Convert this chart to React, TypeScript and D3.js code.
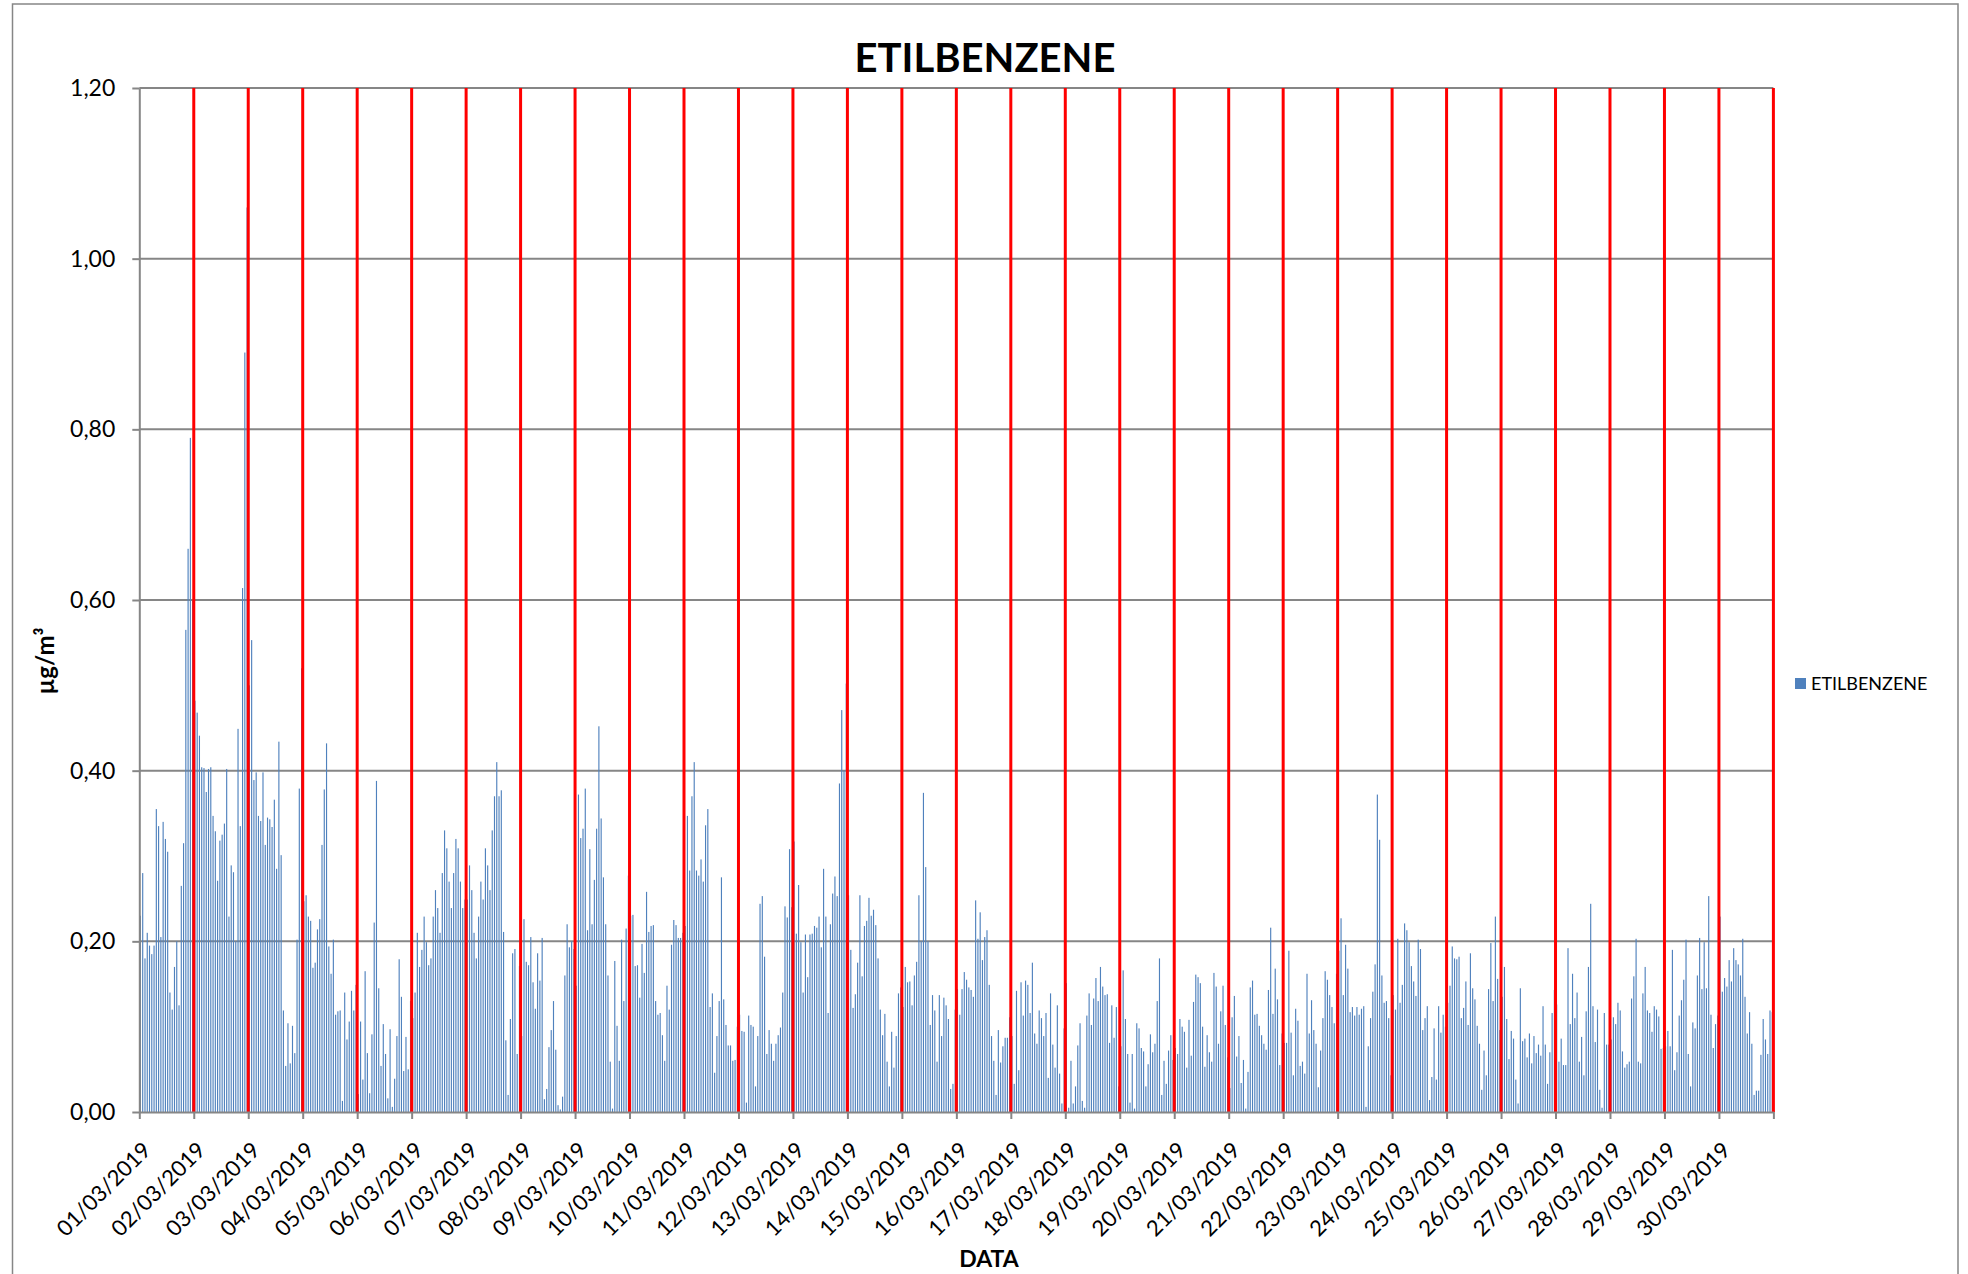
import React, { useEffect, useRef } from 'react';
import * as d3 from 'd3';

// ETILBENZENE - hourly values, march 2019

const dayLabels = [
  '01/03/2019', '02/03/2019', '03/03/2019', '04/03/2019', '05/03/2019', '06/03/2019',
  '07/03/2019', '08/03/2019', '09/03/2019', '10/03/2019', '11/03/2019', '12/03/2019',
  '13/03/2019', '14/03/2019', '15/03/2019', '16/03/2019', '17/03/2019', '18/03/2019',
  '19/03/2019', '20/03/2019', '21/03/2019', '22/03/2019', '23/03/2019', '24/03/2019',
  '25/03/2019', '26/03/2019', '27/03/2019', '28/03/2019', '29/03/2019', '30/03/2019',
];

const yTicks = [0, 0.2, 0.4, 0.6, 0.8, 1.0, 1.2];

const seriesName = 'ETILBENZENE';

// one row per day, 24 hourly values (µg/m³)
const hourly = [
  [0.23, 0.28, 0.18, 0.21, 0.195, 0.185, 0.195, 0.355, 0.335, 0.205, 0.34, 0.32, 0.305, 0.14, 0.12, 0.17, 0.2, 0.125, 0.265, 0.315, 0.565, 0.66, 0.79, 0.6],
  [0.482, 0.468, 0.441, 0.404, 0.403, 0.375, 0.402, 0.404, 0.347, 0.329, 0.271, 0.318, 0.325, 0.338, 0.402, 0.229, 0.289, 0.281, 0.2, 0.449, 0.335, 0.614, 0.89, 1.06],
  [0.5, 0.553, 0.389, 0.398, 0.347, 0.341, 0.398, 0.313, 0.345, 0.343, 0.334, 0.366, 0.285, 0.434, 0.301, 0.119, 0.054, 0.104, 0.057, 0.101, 0.069, 0.202, 0.379, 0.52],
  [0.247, 0.254, 0.229, 0.224, 0.169, 0.175, 0.214, 0.226, 0.313, 0.378, 0.432, 0.194, 0.162, 0.202, 0.114, 0.118, 0.119, 0.013, 0.14, 0.085, 0.106, 0.142, 0.119, 0.149],
  [0.021, 0.106, 0.038, 0.165, 0.069, 0.022, 0.091, 0.222, 0.388, 0.145, 0.054, 0.103, 0.068, 0.016, 0.097, 0.006, 0.039, 0.089, 0.179, 0.135, 0.048, 0.088, 0.05, 0.13],
  [0.11, 0.14, 0.21, 0.17, 0.19, 0.229, 0.199, 0.172, 0.18, 0.229, 0.26, 0.239, 0.21, 0.28, 0.33, 0.309, 0.27, 0.239, 0.28, 0.32, 0.309, 0.27, 0.239, 0.249],
  [0.249, 0.289, 0.26, 0.21, 0.18, 0.229, 0.27, 0.249, 0.309, 0.289, 0.26, 0.33, 0.37, 0.41, 0.37, 0.377, 0.211, 0.084, 0.02, 0.109, 0.186, 0.191, 0.068, 0.171],
  [0.089, 0.226, 0.176, 0.172, 0.205, 0.152, 0.121, 0.186, 0.154, 0.204, 0.015, 0.027, 0.076, 0.096, 0.13, 0.073, 0.008, 0.003, 0.018, 0.16, 0.22, 0.193, 0.2, 0.191],
  [0.148, 0.372, 0.321, 0.332, 0.379, 0.213, 0.308, 0.22, 0.272, 0.332, 0.452, 0.344, 0.275, 0.22, 0.16, 0.059, 0.004, 0.177, 0.101, 0.06, 0.202, 0.13, 0.215, 0.277],
  [0.23, 0.231, 0.171, 0.172, 0.134, 0.197, 0.163, 0.258, 0.211, 0.218, 0.219, 0.13, 0.114, 0.116, 0.09, 0.06, 0.148, 0.12, 0.196, 0.225, 0.219, 0.204, 0.204, 0.21],
  [0.218, 0.347, 0.283, 0.37, 0.41, 0.283, 0.277, 0.296, 0.27, 0.336, 0.355, 0.123, 0.139, 0.046, 0.089, 0.13, 0.275, 0.132, 0.102, 0.078, 0.078, 0.06, 0.061, 0.1],
  [0.114, 0.095, 0.094, 0.011, 0.113, 0.102, 0.1, 0.03, 0.089, 0.244, 0.253, 0.182, 0.068, 0.096, 0.08, 0.06, 0.08, 0.09, 0.099, 0.14, 0.241, 0.228, 0.308, 0.24],
  [0.317, 0.209, 0.266, 0.199, 0.14, 0.208, 0.158, 0.208, 0.209, 0.218, 0.216, 0.229, 0.193, 0.285, 0.229, 0.116, 0.22, 0.256, 0.276, 0.253, 0.385, 0.471, 0.4, 0.502],
  [0.254, 0.19, 0.122, 0.138, 0.175, 0.254, 0.159, 0.218, 0.224, 0.251, 0.23, 0.237, 0.219, 0.18, 0.12, 0.09, 0.115, 0.059, 0.03, 0.094, 0.052, 0.089, 0.139, 0.146],
  [0.123, 0.17, 0.152, 0.153, 0.125, 0.16, 0.176, 0.254, 0.2, 0.374, 0.287, 0.2, 0.102, 0.137, 0.119, 0.059, 0.137, 0.089, 0.134, 0.125, 0.109, 0.027, 0.033, 0.12],
  [0.144, 0.114, 0.144, 0.164, 0.155, 0.146, 0.143, 0.135, 0.248, 0.203, 0.234, 0.178, 0.205, 0.213, 0.149, 0.089, 0.06, 0.02, 0.096, 0.058, 0.077, 0.087, 0.087, 0.111],
  [0.089, 0.033, 0.142, 0.049, 0.152, 0.113, 0.154, 0.149, 0.116, 0.175, 0.092, 0.08, 0.119, 0.11, 0.089, 0.116, 0.04, 0.139, 0.079, 0.052, 0.125, 0.045, 0.01, 0.098],
  [0.151, 0.005, 0.06, 0.01, 0.03, 0.078, 0.104, 0.013, 0.005, 0.113, 0.139, 0.102, 0.133, 0.157, 0.13, 0.17, 0.147, 0.137, 0.138, 0.081, 0.125, 0.087, 0.123, 0.03],
  [0.077, 0.166, 0.109, 0.068, 0.011, 0.068, 0.004, 0.104, 0.098, 0.075, 0.071, 0.03, 0.056, 0.091, 0.07, 0.08, 0.13, 0.18, 0.02, 0.06, 0.033, 0.072, 0.09, 0.061],
  [0.075, 0.068, 0.109, 0.1, 0.094, 0.052, 0.108, 0.066, 0.129, 0.161, 0.158, 0.151, 0.1, 0.053, 0.09, 0.07, 0.059, 0.163, 0.147, 0.08, 0.118, 0.148, 0.102, 0.064],
  [0.028, 0.111, 0.136, 0.065, 0.089, 0.034, 0.061, 0.004, 0.047, 0.146, 0.154, 0.114, 0.115, 0.101, 0.09, 0.08, 0.073, 0.143, 0.216, 0.115, 0.168, 0.132, 0.055, 0.092],
  [0.081, 0.081, 0.189, 0.093, 0.043, 0.121, 0.107, 0.054, 0.059, 0.045, 0.162, 0.092, 0.131, 0.096, 0.08, 0.029, 0.072, 0.11, 0.165, 0.155, 0.137, 0.123, 0.104, 0.162],
  [0.189, 0.227, 0.137, 0.196, 0.168, 0.117, 0.123, 0.113, 0.123, 0.114, 0.121, 0.124, 0.006, 0.077, 0.11, 0.141, 0.173, 0.372, 0.319, 0.16, 0.128, 0.13, 0.11, 0.043],
  [0.137, 0.12, 0.203, 0.128, 0.149, 0.221, 0.213, 0.199, 0.171, 0.153, 0.136, 0.202, 0.191, 0.096, 0.11, 0.124, 0.014, 0.041, 0.098, 0.038, 0.124, 0.093, 0.114, 0.1],
  [0.128, 0.148, 0.194, 0.18, 0.179, 0.182, 0.11, 0.122, 0.153, 0.102, 0.186, 0.145, 0.132, 0.101, 0.08, 0.026, 0.072, 0.043, 0.144, 0.198, 0.13, 0.229, 0.156, 0.096],
  [0.135, 0.17, 0.109, 0.062, 0.095, 0.086, 0.038, 0.01, 0.145, 0.083, 0.086, 0.064, 0.092, 0.057, 0.089, 0.069, 0.079, 0.066, 0.124, 0.079, 0.033, 0.07, 0.116, 0.143],
  [0.126, 0.059, 0.086, 0.055, 0.055, 0.192, 0.103, 0.162, 0.11, 0.14, 0.059, 0.088, 0.043, 0.118, 0.17, 0.244, 0.124, 0.082, 0.12, 0.026, 0.005, 0.116, 0.079, 0.079],
  [0.085, 0.111, 0.103, 0.128, 0.119, 0.071, 0.052, 0.056, 0.059, 0.133, 0.159, 0.203, 0.059, 0.057, 0.139, 0.17, 0.119, 0.116, 0.094, 0.124, 0.12, 0.112, 0.074, 0.075],
  [0.077, 0.095, 0.077, 0.19, 0.049, 0.07, 0.113, 0.131, 0.155, 0.202, 0.068, 0.03, 0.105, 0.098, 0.16, 0.204, 0.144, 0.199, 0.145, 0.253, 0.114, 0.075, 0.103, 0.113],
  [0.229, 0.141, 0.157, 0.147, 0.178, 0.153, 0.192, 0.178, 0.173, 0.16, 0.203, 0.135, 0.092, 0.117, 0.08, 0.02, 0.025, 0.025, 0.067, 0.109, 0.085, 0.068, 0.119, 0.117],
];

const App = () => {
  const svgRef = useRef<SVGSVGElement>(null);

  useEffect(() => {
    const width = 1968;
    const height = 1274;
    const plot = { left: 139.3, right: 1773.4, top: 88, bottom: 1112 };
    const font = 'Lato, "Open Sans", sans-serif';
    const gridColor = '#868686';

    const svg = d3.select(svgRef.current);
    svg.selectAll('*').remove();

    const data = hourly.flatMap((day, d) => day.map((v, h) => ({ i: d * 24 + h, v })));

    const x = d3
      .scaleBand<number>()
      .domain(data.map(d => d.i))
      .range([plot.left, plot.right])
      .paddingInner(0.5)
      .paddingOuter(0.25);

    const xDay = d3.scaleLinear().domain([0, dayLabels.length]).range([plot.left, plot.right]);

    const y = d3.scaleLinear().domain([0, 1.2]).range([plot.bottom, plot.top]);

    const comma = d3.formatLocale({ decimal: ',', thousands: '.', grouping: [3], currency: ['', '€'] }).format('.2f');

    // chart frame
    svg.append('rect')
      .attr('x', 12.5)
      .attr('y', 4)
      .attr('width', 1958 - 12.5)
      .attr('height', 1300)
      .attr('fill', '#fff')
      .attr('stroke', gridColor)
      .attr('stroke-width', 1.5);

    // horizontal gridlines
    svg.append('g')
      .selectAll('line')
      .data(yTicks.filter(t => t > 0))
      .join('line')
      .attr('x1', plot.left)
      .attr('x2', plot.right)
      .attr('y1', d => y(d))
      .attr('y2', d => y(d))
      .attr('stroke', gridColor)
      .attr('stroke-width', 2);

    // bars
    svg.append('g')
      .selectAll('rect')
      .data(data)
      .join('rect')
      .attr('x', d => x(d.i)!)
      .attr('y', d => y(d.v))
      .attr('width', x.bandwidth())
      .attr('height', d => y(0) - y(d.v))
      .attr('fill', '#4F81BD');

    // red day separators
    svg.append('g')
      .selectAll('line')
      .data(d3.range(1, dayLabels.length + 1))
      .join('line')
      .attr('x1', d => xDay(d))
      .attr('x2', d => xDay(d))
      .attr('y1', plot.top)
      .attr('y2', plot.bottom)
      .attr('stroke', '#FF0000')
      .attr('stroke-width', 3);

    // y axis
    const yAxis = svg.append('g')
      .attr('transform', `translate(${plot.left},0)`)
      .call(d3.axisLeft(y).tickValues(yTicks).tickFormat(d => comma(+d)).tickSize(7).tickSizeOuter(0).tickPadding(17));
    yAxis.select('.domain').attr('stroke', gridColor).attr('stroke-width', 2);
    yAxis.selectAll('.tick line').attr('stroke', gridColor).attr('stroke-width', 2);
    yAxis.selectAll('.tick text')
      .attr('fill', '#000')
      .style('font-family', font)
      .style('font-size', '23px');

    // x axis, labels rotated 45°
    const xAxis = svg.append('g')
      .attr('transform', `translate(0,${plot.bottom})`)
      .call(d3.axisBottom(xDay).tickValues(d3.range(0, dayLabels.length + 1)).tickFormat(d => dayLabels[+d] ?? '').tickSize(7).tickSizeOuter(0));
    xAxis.select('.domain').attr('stroke', gridColor).attr('stroke-width', 2);
    xAxis.selectAll('.tick line').attr('stroke', gridColor).attr('stroke-width', 2);
    xAxis.selectAll('.tick text')
      .attr('fill', '#000')
      .attr('text-anchor', 'end')
      .attr('x', 0)
      .attr('y', 0)
      .attr('dy', '0.35em')
      .attr('transform', 'translate(7,34) rotate(-45)')
      .style('font-family', font)
      .style('font-size', '22px');

    // title
    svg.append('text')
      .attr('x', 985)
      .attr('y', 72)
      .attr('text-anchor', 'middle')
      .style('font-family', font)
      .style('font-weight', 'bold')
      .style('font-size', '40px')
      .text('ETILBENZENE');

    // y label
    svg.append('text')
      .attr('transform', 'translate(54,661) rotate(-90)')
      .attr('text-anchor', 'middle')
      .style('font-family', font)
      .style('font-weight', 'bold')
      .style('font-size', '24px')
      .text('µg/m³');

    // x label
    svg.append('text')
      .attr('x', 989)
      .attr('y', 1267)
      .attr('text-anchor', 'middle')
      .style('font-family', font)
      .style('font-weight', 'bold')
      .style('font-size', '23px')
      .text('DATA');

    // legend
    const legend = svg.append('g').attr('transform', 'translate(1795,678)');
    legend.append('rect').attr('width', 11).attr('height', 11).attr('fill', '#4F81BD');
    legend.append('text')
      .attr('x', 16)
      .attr('y', 5.5)
      .attr('dy', '0.35em')
      .style('font-family', font)
      .style('font-size', '18px')
      .text(seriesName);

    svg.attr('width', width).attr('height', height);
  }, []);

  return (
    <svg
      ref={svgRef}
      width="1968"
      height="1274"
      style={{ position: 'absolute', left: 0, top: 0, background: '#fff' }}
    />
  );
};

export default App;
